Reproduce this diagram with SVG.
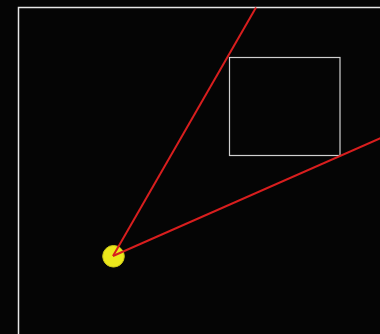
<svg xmlns="http://www.w3.org/2000/svg" width="380" height="334" viewBox="0 0 380 334">
<style>
.frame{fill:none;stroke:#e6e6e6;stroke-width:1.5}
.ray{stroke:#d81e1e;stroke-width:2;fill:none}
</style>
<rect x="0" y="0" width="380" height="334" fill="#050505"/>
<g id="frame">
<polyline class="frame" points="18.5,334 18.5,7.5 380,7.5"/>
</g>
<g id="box">
<rect x="229.5" y="57.5" width="110.5" height="98" fill="none" stroke="#d0d0d0" stroke-width="1.2"/>
</g>
<g id="source">
<circle cx="113.5" cy="256.3" r="10.8" fill="#ece81c" stroke="#c8c418" stroke-width="1"/>
</g>
<g id="connectors">
<line class="ray" x1="113" y1="256" x2="256" y2="7.5"/>
<line class="ray" x1="113" y1="256" x2="381" y2="138"/>
</g>
</svg>
